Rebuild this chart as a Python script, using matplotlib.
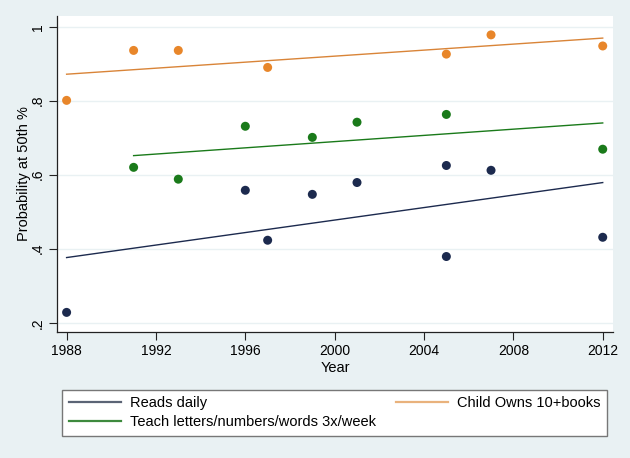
import numpy as np
import matplotlib
matplotlib.use("Agg")
import matplotlib.pyplot as plt
from matplotlib.lines import Line2D

plt.rcParams["font.family"] = ["Liberation Sans", "DejaVu Sans"]

# Reads daily
reads_years = [1988, 1996, 1997, 1999, 2001, 2005, 2005, 2007, 2012]
reads_vals = [0.228, 0.558, 0.423, 0.547, 0.579, 0.625, 0.379, 0.612, 0.431]

# Teach letters/numbers/words 3x/week
teach_years = [1991, 1993, 1996, 1999, 2001, 2005, 2012]
teach_vals = [0.620, 0.588, 0.731, 0.701, 0.742, 0.763, 0.669]

# Child owns 10+ books
books_years = [1988, 1991, 1993, 1997, 2005, 2007, 2012]
books_vals = [0.801, 0.936, 0.936, 0.890, 0.926, 0.978, 0.948]

x_ticks = [1988, 1992, 1996, 2000, 2004, 2008, 2012]
y_ticks = [0.2, 0.4, 0.6, 0.8, 1.0]
y_tick_labels = [".2", ".4", ".6", ".8", "1"]

NAVY = "#1c2a4e"
GREEN = "#1a7a1a"
ORANGE = "#e8862a"
BG = "#e9f1f3"


def lfit(ax, xs, ys, color):
    """Straight OLS fit over the range of the data, like Stata's lfit."""
    xs = np.asarray(xs, dtype=float)
    slope, icpt = np.polyfit(xs, ys, 1)
    xr = np.array([xs.min(), xs.max()])
    ax.plot(xr, icpt + slope * xr, color=color, linewidth=1.0, zorder=2)


def main():
    fig = plt.figure(figsize=(6.3, 4.58), dpi=100)
    fig.patch.set_facecolor(BG)
    ax = fig.add_axes([57 / 630, 1 - 332 / 458, 556 / 630, 316 / 458])
    ax.set_facecolor("white")

    for xs, ys, c in [(reads_years, reads_vals, NAVY),
                      (teach_years, teach_vals, GREEN),
                      (books_years, books_vals, ORANGE)]:
        ax.scatter(xs, ys, s=42, color=c, edgecolors="none", zorder=3)
    lfit(ax, reads_years, reads_vals, NAVY)
    lfit(ax, teach_years, teach_vals, GREEN)
    lfit(ax, books_years, books_vals, "#d98438")

    ax.set_xlim(1987.57, 2012.46)
    ax.set_ylim(0.175, 1.029)
    ax.set_xticks(x_ticks)
    ax.set_yticks(y_ticks)
    ax.set_yticklabels(y_tick_labels, rotation=90, va="center")
    ax.grid(axis="y", color=BG, linewidth=1.0)
    ax.set_axisbelow(True)

    for s in ["top", "right"]:
        ax.spines[s].set_visible(False)
    for s in ["left", "bottom"]:
        ax.spines[s].set_color("#222222")
        ax.spines[s].set_linewidth(0.9)
    ax.tick_params(axis="both", length=5.5, width=0.8, color="#222222",
                   labelsize=10, pad=3)

    ax.set_xlabel("Year", fontsize=10.5, labelpad=2)
    ax.set_ylabel("Probability at 50th %", fontsize=10.5)
    # Stata puts the title right up against the tick labels
    ax.yaxis.set_label_coords(-0.047, 0.5)

    handles = [
        Line2D([], [], color="#5b6475", linewidth=1.6),
        Line2D([], [], color="#3d8a3d", linewidth=1.6),
        Line2D([], [], color="#e9b27c", linewidth=1.6),
    ]
    labels = ["Reads daily", "Teach letters/numbers/words 3x/week",
              "Child Owns 10+books"]
    leg = fig.legend(handles, labels, ncol=2, mode="expand",
                     bbox_to_anchor=(62 / 630, 1 - 436 / 458, 545 / 630, 52 / 458),
                     loc="lower left", fontsize=10.5, handlelength=3.6,
                     handletextpad=0.6, borderaxespad=0, borderpad=0.45,
                     labelspacing=0.35, fancybox=False, framealpha=1,
                     edgecolor="#777777", facecolor="white")
    leg.get_frame().set_linewidth(1.0)

    fig.savefig("out.png", dpi=100, facecolor=fig.get_facecolor())


if __name__ == "__main__":
    main()
